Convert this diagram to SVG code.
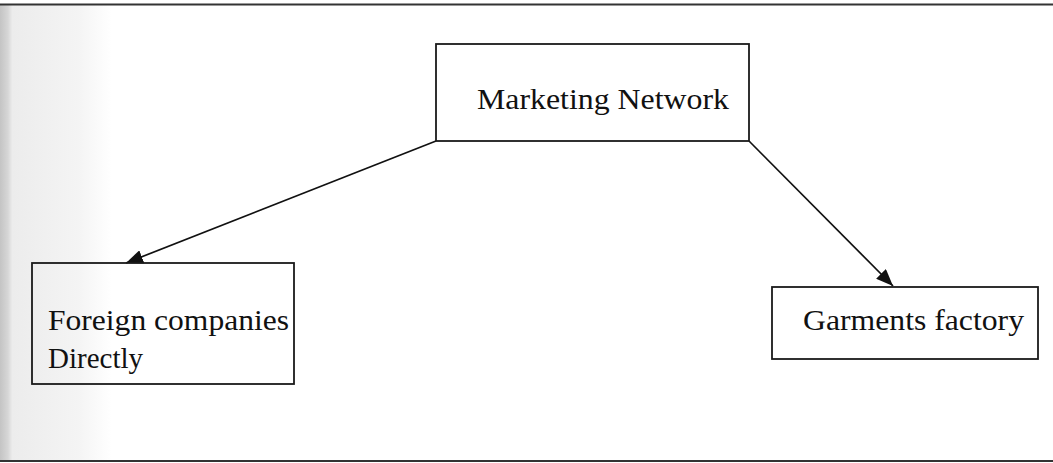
<svg xmlns="http://www.w3.org/2000/svg" width="1053" height="463" viewBox="0 0 1053 463">
<style>
.box{fill:none;stroke:#1a1a1a;stroke-width:1.8}
.lbl{font-family:"Liberation Serif","Times New Roman",serif;font-size:29px;fill:#111}
.edge{stroke:#111;stroke-width:1.7;fill:none}
.frame{stroke:#333;stroke-width:2}
</style>
<defs>
<linearGradient id="shade" x1="0" y1="0" x2="1" y2="0">
<stop offset="0" stop-color="#c4c4c4"/>
<stop offset="0.07" stop-color="#d6d6d6"/>
<stop offset="0.11" stop-color="#ececec"/>
<stop offset="0.7" stop-color="#f4f4f4"/>
<stop offset="1" stop-color="#ffffff"/>
</linearGradient>
<marker id="arrL" viewBox="0 0 16 13" refX="16" refY="6.5" markerWidth="17" markerHeight="14" markerUnits="userSpaceOnUse" orient="auto">
<path d="M0,0 L16,6.5 L0,13 z" fill="#111"/>
</marker>
</defs>
<rect x="0" y="0" width="1053" height="463" fill="#ffffff"/>
<rect x="0" y="5" width="112" height="455" fill="url(#shade)"/>
<line class="frame" x1="0" y1="4.5" x2="1053" y2="4.5"/>
<line class="frame" x1="0" y1="461" x2="1053" y2="461"/>
<g id="connectors">
<line class="edge" x1="436" y1="141" x2="126" y2="263" marker-end="url(#arrL)"/>
<line class="edge" x1="749" y1="141" x2="893" y2="286" marker-end="url(#arrL)"/>
</g>
<g id="node-marketing">
<rect class="box" x="436" y="44" width="313" height="97"/>
<text class="lbl" x="477" y="109" textLength="252" lengthAdjust="spacingAndGlyphs">Marketing Network</text>
</g>
<g id="node-foreign">
<rect class="box" x="32" y="263" width="262" height="121"/>
<text class="lbl" x="48" y="330" textLength="241" lengthAdjust="spacingAndGlyphs">Foreign companies</text>
<text class="lbl" x="48" y="368">Directly</text>
</g>
<g id="node-garments">
<rect class="box" x="772" y="287" width="266" height="72"/>
<text class="lbl" x="803" y="330" textLength="221" lengthAdjust="spacingAndGlyphs">Garments factory</text>
</g>
</svg>
